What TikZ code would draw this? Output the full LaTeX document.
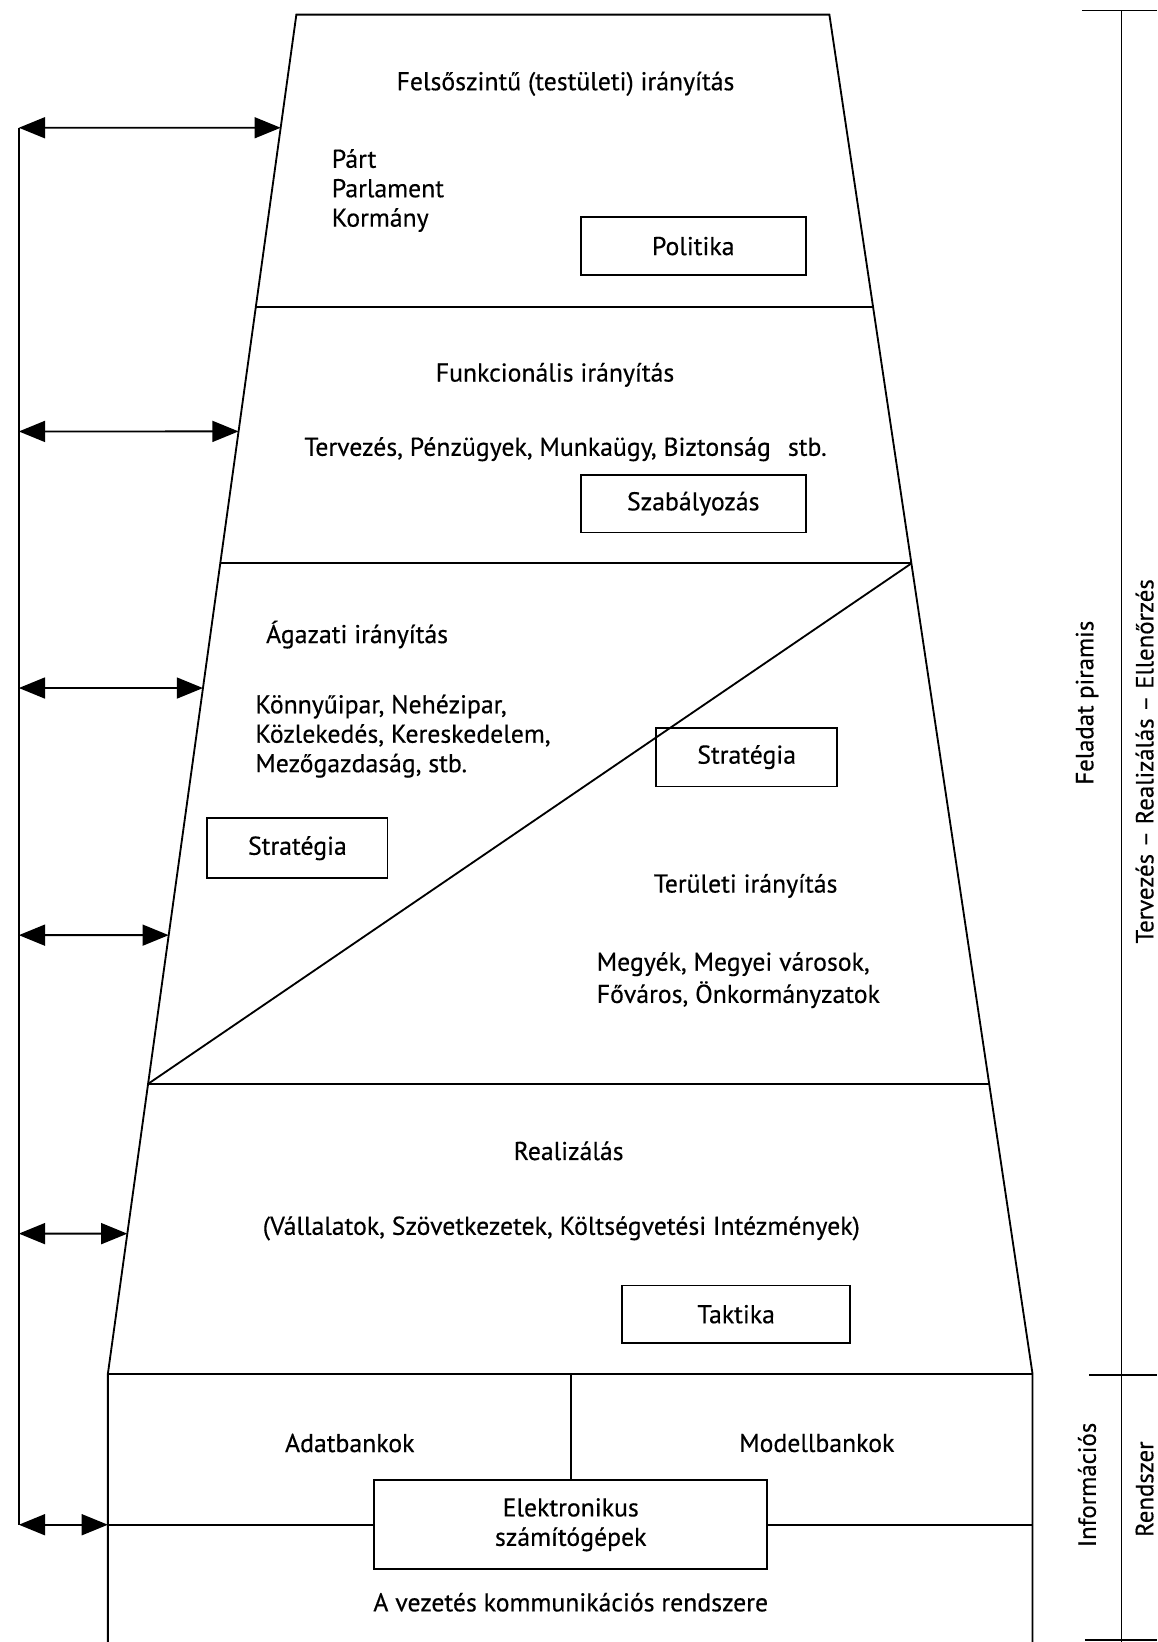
\documentclass[tikz,border=0pt]{standalone}
\usepackage{fontspec}
\setmainfont{PT Sans}
\newfontfamily\diafont{PT Sans}[FakeBold=0.4]
\usetikzlibrary{arrows.meta,calc}

\begin{document}
\begin{tikzpicture}[
  x=0.02cm, y=-0.02cm,
  line width=1pt,
  txt/.style={font=\diafont\fontsize{14}{16}\selectfont, inner sep=0pt},
  txtl/.style={txt, align=left, anchor=west},
  side/.style={font=\diafont\fontsize{13.5}{16}\selectfont, inner sep=0pt, rotate=90},
  fbox/.style={draw, txt, minimum width=4.3cm, minimum height=1.1cm},
  dblarr/.style={arrows={Triangle[length=0.5cm,width=0.4cm]-Triangle[length=0.5cm,width=0.4cm]}},
]

\useasboundingbox (0,0) rectangle (1105,1568);

\coordinate (tl) at (283,14);
\coordinate (tr) at (792,14);
\coordinate (bl) at (103,1312);
\coordinate (br) at (986,1312);
\coordinate (fl) at (103,1568);
\coordinate (fr) at (986,1568);

\draw (fl) -- (bl) -- (tl) -- (tr) -- (br) -- (fr);

\coordinate (l1) at ($(tl)!0.2149!(bl)$);
\coordinate (r1) at ($(tr)!0.2149!(br)$);
\coordinate (l2) at ($(tl)!0.4037!(bl)$);
\coordinate (r2) at ($(tr)!0.4037!(br)$);
\coordinate (l3) at ($(tl)!0.7866!(bl)$);
\coordinate (r3) at ($(tr)!0.7866!(br)$);

\draw (l1) -- (r1);
\draw (l2) -- (r2);
\draw (l3) -- (r3);
\draw (bl) -- (br);
\draw (r2) -- (l3);

\node [txt] (felso) at (540,80) {Felsőszintű (testületi) irányítás};
\node [txtl] (part) at (316,182) {Párt\\Parlament\\Kormány};
\node [fbox] (politika) at (662,235) {Politika};

\node [txt] (funk) at (530,358) {Funkcionális irányítás};
\node [txt] (funklist) at (540,429) {Tervezés, Pénzügyek, Munkaügy, Biztonság\hspace{0.4em} stb.};
\node [fbox] (szab) at (662,481) {Szabályozás};

\node [txt] (agazati) at (341,606) {Ágazati irányítás};
\node [txtl] (agalist) at (243,703) {Könnyűipar, Nehézipar,\\Közlekedés, Kereskedelem,\\Mezőgazdaság, stb.};
\node [fbox, minimum width=3.44cm, minimum height=1.14cm] (stratl) at (284,810) {Stratégia};
\node [fbox, minimum width=3.46cm, minimum height=1.12cm] (stratr) at (713,723) {Stratégia};
\node [txt] (teruleti) at (712,846) {Területi irányítás};
\node [txtl, font=\diafont\fontsize{14}{17.5}\selectfont] (terlist) at (569,936) {Megyék, Megyei városok,\\Főváros, Önkormányzatok};

\node [txt] (real) at (543,1099) {Realizálás};
\node [txt] (reallist) at (536,1173) {(Vállalatok, Szövetkezetek, Költségvetési Intézmények)};
\node [fbox, minimum width=4.36cm] (taktika) at (703,1255) {Taktika};

\node [txt] (adat) at (334,1378) {Adatbankok};
\node [txt] (modell) at (780,1378) {Modellbankok};
\node [fbox, align=center, minimum width=7.5cm, minimum height=1.7cm] (elek) at (545,1456) {Elektronikus\\számítógépek};
\node [txt] (komm) at (545,1530) {A vezetés kommunikációs rendszere};

\draw (elek.north) -- (elek.north |- bl);
\draw (elek.east) -- (elek.east -| br);

\coordinate (v1) at (18,122);
\coordinate (v2) at (18,412);
\coordinate (v3) at (18,657);
\coordinate (v4) at (18,893);
\coordinate (v5) at (18,1178);
\coordinate (v6) at (18,1456);
\coordinate (e1) at ($(tl)!0.0832!(bl)$);
\coordinate (e2) at ($(tl)!0.3066!(bl)$);
\coordinate (e3) at ($(tl)!0.4954!(bl)$);
\coordinate (e4) at ($(tl)!0.6772!(bl)$);
\coordinate (e5) at ($(tl)!0.8968!(bl)$);
\coordinate (e6) at (v6 -| bl);

\draw (v1) -- (v6);
\draw [dblarr] (v1) -- (e1);
\draw [dblarr] (v2) -- (e2);
\draw [dblarr] (v3) -- (e3);
\draw [dblarr] (v4) -- (e4);
\draw [dblarr] (v5) -- (e5);
\draw [dblarr] (v6) -- (e6);
\draw (e6) -- (elek.west);

\draw (1071,10) -- (1071,1568);
\draw (1033,10) -- (1105,10);
\draw (1040,1313) -- (1105,1313);
\draw (1036,1566) -- (1105,1566);

\node [side] (feladat) at (1038,671) {Feladat piramis};
\node [side] (terv) at (1093,727) {Tervezés – Realizálás – Ellenőrzés};
\node [side] (info) at (1038,1418) {Információs};
\node [side] (rendszer) at (1093,1422) {Rendszer};

\end{tikzpicture}
\end{document}
